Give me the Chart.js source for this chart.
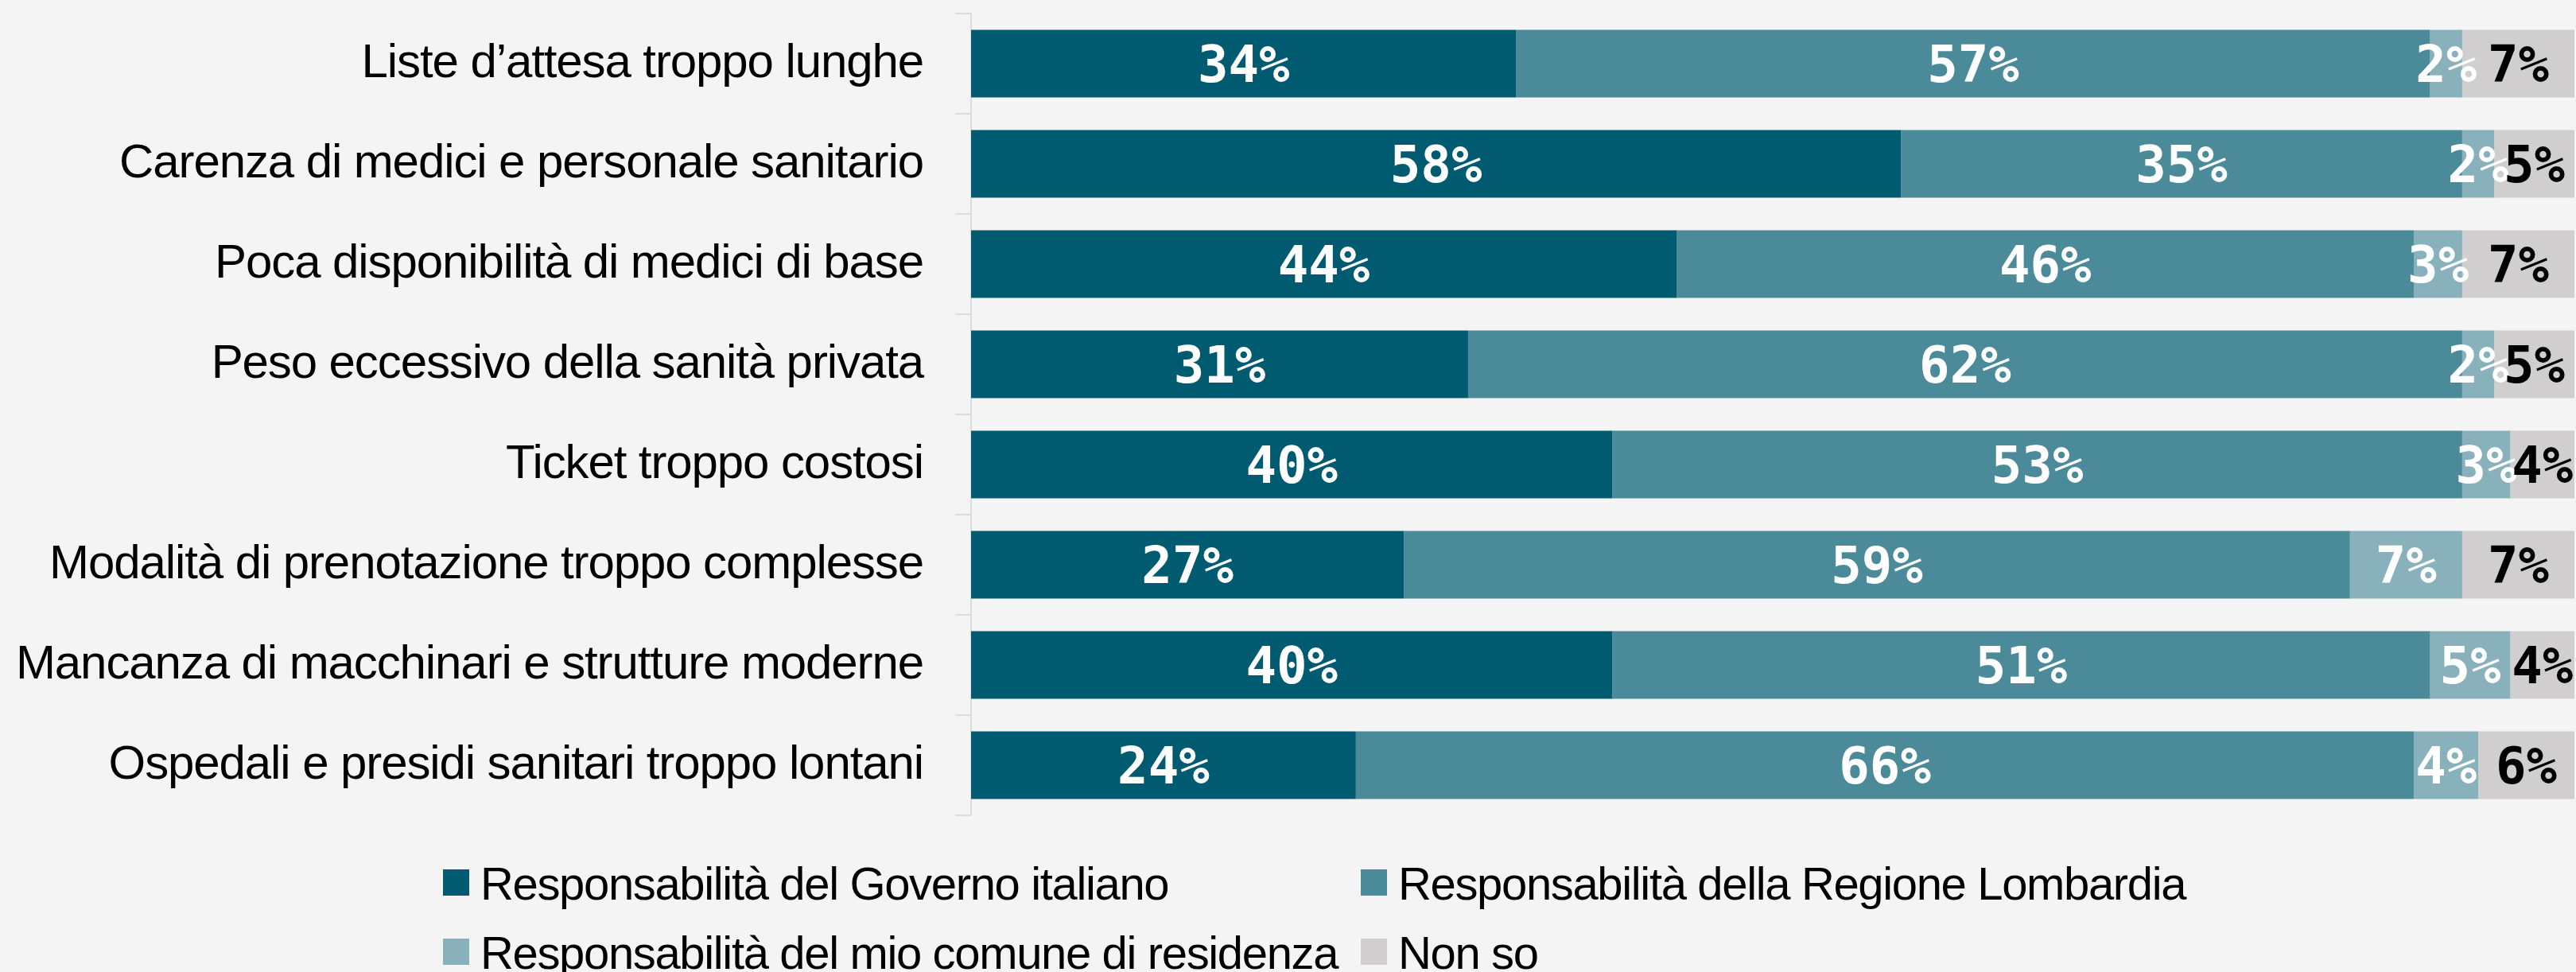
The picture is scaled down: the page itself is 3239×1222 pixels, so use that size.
<!DOCTYPE html>
<html>
<head>
<meta charset="utf-8">
<script src="https://cdn.jsdelivr.net/npm/chart.js@4"></script>
<style>
  html, body { margin: 0; padding: 0; background: #f4f4f4; }
  body { width: 3239px; height: 1222px; overflow: hidden; position: relative; }
  #wrap { position: absolute; left: 0; top: 0; width: 3239px; height: 1060px; }
  #legend {
    position: absolute; left: 557px; top: 1067px;
    display: grid; grid-template-columns: 1154px auto;
    font-family: "Liberation Sans", Arial, sans-serif; font-size: 58px;
    letter-spacing: -1.35px; line-height: 87px; color: #000; white-space: nowrap;
  }
  #legend .box { display: inline-block; width: 33px; height: 33px; margin-right: 14px; vertical-align: 5px; }
</style>
</head>
<body>
<div id="wrap"><canvas id="chart"></canvas></div>
<div id="legend"></div>
<script>
const categories = [
  'Liste d’attesa troppo lunghe',
  'Carenza di medici e personale sanitario',
  'Poca disponibilità di medici di base',
  'Peso eccessivo della sanità privata',
  'Ticket troppo costosi',
  'Modalità di prenotazione troppo complesse',
  'Mancanza di macchinari e strutture moderne',
  'Ospedali e presidi sanitari troppo lontani',
];
const seriesNames = [
  'Responsabilità del Governo italiano',
  'Responsabilità della Regione Lombardia',
  'Responsabilità del mio comune di residenza',
  'Non so',
];
const governo = [34, 58, 44, 31, 40, 27, 40, 24];
const regione = [57, 35, 46, 62, 53, 59, 51, 66];
const comune = [2, 2, 3, 2, 3, 7, 5, 4];
const nonSo = [7, 5, 7, 5, 4, 7, 4, 6];

const colors = ['#005b70', '#4a8a99', '#89b1bb', '#d0cecf'];
const labelColors = ['#fff', '#fff', '#fff', '#000'];

// value labels centred in each segment
const valueLabels = {
  id: 'valueLabels',
  afterDatasetsDraw(chart) {
    const ctx = chart.ctx;
    ctx.save();
    ctx.letterSpacing = '0px';
    ctx.font = 'bold 64px "DejaVu Sans Mono", monospace';
    ctx.textAlign = 'center';
    ctx.textBaseline = 'alphabetic';
    chart.data.datasets.forEach((ds, i) => {
      ctx.fillStyle = labelColors[i];
      chart.getDatasetMeta(i).data.forEach((bar, j) => {
        const x = (bar.x + bar.base) / 2;
        ctx.fillText(ds.data[j] + '%', x, bar.y + 23);
      });
    });
    ctx.restore();
  },
};

// tighter tracking for the category labels
const tracking = {
  id: 'tracking',
  beforeDraw(chart) {
    chart.ctx.letterSpacing = '-1.1px';
  },
};

new Chart(document.getElementById('chart'), {
  type: 'bar',
  data: {
    labels: categories,
    datasets: [governo, regione, comune, nonSo].map((d, i) => ({
      label: seriesNames[i],
      data: d,
      backgroundColor: colors[i],
      borderWidth: 0,
      barPercentage: 0.675,
      categoryPercentage: 1,
    })),
  },
  options: {
    indexAxis: 'y',
    responsive: true,
    maintainAspectRatio: false,
    animation: false,
    layout: { padding: { top: 17, bottom: 35, left: 0, right: 2 } },
    plugins: { legend: { display: false }, tooltip: { enabled: false } },
    scales: {
      x: { stacked: true, min: 0, max: 100, display: false },
      y: {
        stacked: true,
        afterFit: s => {
          s.width = 1221;
          s.paddingTop = 0;
          s.paddingBottom = 0;
        },
        border: { display: true, color: '#dcdcdc', width: 2 },
        grid: { drawOnChartArea: false, drawTicks: true, tickLength: 20, color: '#dcdcdc', lineWidth: 2 },
        ticks: {
          padding: 40,
          color: '#000',
          font: { family: '"Liberation Sans", Arial, sans-serif', size: 60 },
        },
      },
    },
  },
  plugins: [tracking, valueLabels],
});

const legend = document.getElementById('legend');
seriesNames.forEach((name, i) => {
  const item = document.createElement('div');
  item.innerHTML = `<span class="box" style="background:${colors[i]}"></span>${name}`;
  legend.appendChild(item);
});
</script>
</body>
</html>
